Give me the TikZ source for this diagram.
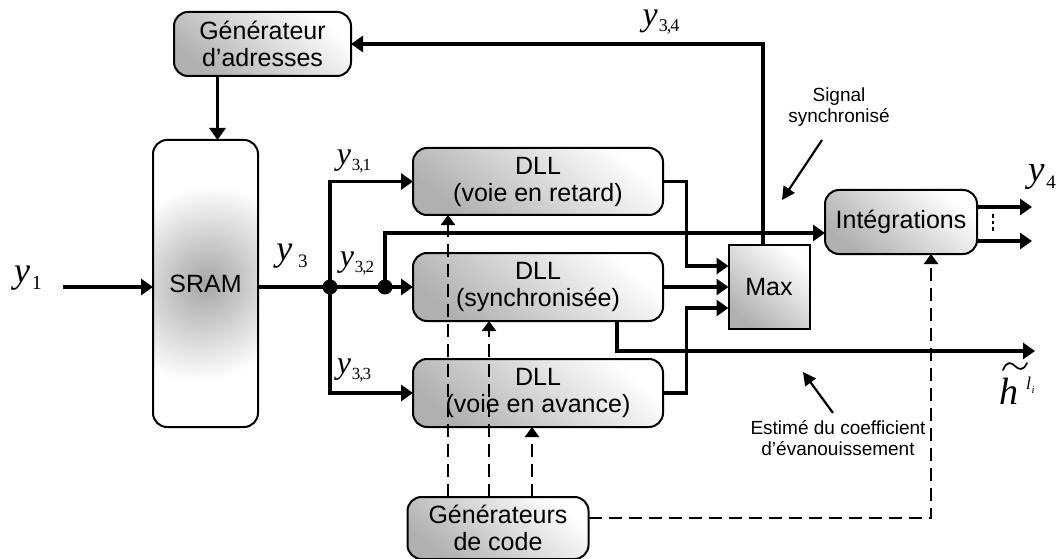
\documentclass[tikz,border=0pt]{standalone}
\usepackage{fontspec}
\setmainfont{Liberation Sans}
\newfontfamily\tnr{Liberation Serif}
\usetikzlibrary{arrows.meta,calc}
\newcommand\ylab[5]{{\tnr\fontsize{#1}{#1}\selectfont\itshape y}\kern#4pt\raisebox{-#3pt}{\tnr\fontsize{#2}{#2}\selectfont #5}}
\begin{document}
\begin{tikzpicture}[x=1pt,y=-1pt,
  box/.style={draw, line width=2pt, rounded corners=14pt, inner sep=0pt, outer sep=0pt,
    font=\fontsize{25}{27}\selectfont, align=center,
    top color=white, bottom color=gray!62, shading angle=-40},
  line/.style={line width=3.6pt},
  arr/.style={line, -{Triangle[length=12pt,width=16pt]}},
  darr/.style={line width=2.3pt, dash pattern=on 13pt off 7pt, -{Triangle[length=10pt,width=14pt]}},
  note/.style={line width=2.2pt, -{Triangle[length=13pt,width=13pt]}},
  small/.style={font=\fontsize{19}{21}\selectfont, align=center},
  lab/.style={inner sep=0pt}]
\useasboundingbox (0,0) rectangle (1061,559);

% boxes
\node[box, minimum width=177pt, minimum height=64pt] (gadr) at (262.5,44) {Générateur\\d’adresses};
\node[box, minimum width=105pt, minimum height=287pt, shading=radial, inner color=gray!70, outer color=white] (sram) at (205.5,283.5) {SRAM};
\node[box, minimum width=250pt, minimum height=67pt] (dll1) at (538,181.5) {DLL\\(voie en retard)};
\node[box, minimum width=250pt, minimum height=68pt] (dll2) at (538,287) {DLL\\(synchronisée)};
\node[box, minimum width=250pt, minimum height=68pt] (dll3) at (538,393) {DLL\\(voie en avance)};
\node[box, rounded corners=0pt, minimum width=81pt, minimum height=84pt] (max) at (769,287) {Max};
\node[box, minimum width=152pt, minimum height=64pt] (integ) at (901,222) {Intégrations};
\node[box, minimum width=181pt, minimum height=62pt] (gcode) at (498,528) {Générateurs\\de code};

% coordinates
\coordinate (in) at (63,287);
\coordinate (d1) at (330,287);
\coordinate (d2) at (385,287);
\coordinate (s2) at (385,233);
\coordinate (hout) at (1035,351);
\coordinate (o1) at (1032,207);
\coordinate (o2) at (1032,241);
\coordinate (sa) at (822,140);
\coordinate (sb) at (782,200);
\coordinate (ea) at (833,413);
\coordinate (eb) at (803,372);
\coordinate (ga) at ($(gadr.south)+(-45,0)$);
\coordinate (mx) at ($(max.north)+(-6,0)$);
\coordinate (dx) at ($(dll2.south)+(79,0)$);
\coordinate (c1) at ($(gcode.north)+(-50,0)$);
\coordinate (c2) at ($(gcode.north)+(-9,0)$);
\coordinate (c3) at ($(gcode.north)+(34,0)$);
\coordinate (c4) at ($(gcode.east)+(0,-10)$);
\coordinate (c5) at ($(integ.south)+(30,0)$);
\coordinate (m1) at ($(max.west)+(-42,-21)$);
\coordinate (m3) at ($(max.west)+(-42,21)$);

% connectors
\draw[arr] (ga) -- (ga |- sram.north);
\draw[arr] (in) -- (in -| sram.west);
\draw[line] (in -| sram.east) -- (d1) -- (d2);
\draw[arr] (d2) -- (dll2.west);
\draw[arr] (d1) |- (dll1.west);
\draw[arr] (d1) |- (dll3.west);
\draw[arr] (d2) -- (s2) -- (s2 -| integ.west);
\fill (d1) circle (7.5pt);
\fill (d2) circle (7.5pt);
\draw[arr] (dll1.east) -| (m1) -- (m1 -| max.west);
\draw[arr] (dll2.east) -- (max.west);
\draw[arr] (dll3.east) -| (m3) -- (m3 -| max.west);
\draw[arr] (mx) |- (gadr.east);
\draw[arr] (dx) |- (hout);
\draw[arr] (o1 -| integ.east) -- (o1);
\draw[arr] (o2 -| integ.east) -- (o2);
\draw[line width=1.8pt, dash pattern=on 3.5pt off 3pt] ($(integ.east)+(16,-8)$) -- ($(integ.east)+(16,10)$);
\draw[darr] (c1) -- (c1 |- dll1.south);
\draw[darr] (c2) -- (c2 |- dll2.south);
\draw[darr] (c3) -- (c3 |- dll3.south);
\draw[darr] (c4) -| (c5);
\draw[note] (sa) -- (sb);
\draw[note] (ea) -- (eb);

% labels
\node[lab] (ly1) at (28,278) {\ylab{36}{20}{7}{2}{1}};
\node[lab] (ly3) at (292,256) {\ylab{36}{19}{7}{6}{3}};
\node[lab] (ly31) at (354,161) {\ylab{32}{17}{6}{1}{3{\kern-1pt},{\kern-1pt}1}};
\node[lab] (ly32) at (357,263) {\ylab{32}{17}{6}{1}{3{\kern-1pt},{\kern-1pt}2}};
\node[lab] (ly33) at (354,370) {\ylab{32}{17}{6}{1}{3{\kern-1pt},{\kern-1pt}3}};
\node[lab] (ly34) at (661,22) {\ylab{34}{18}{6}{1}{3{\kern-1pt},{\kern-1pt}4}};
\node[lab] (ly4) at (1042,177) {\ylab{37}{19}{7}{2}{4}};
\node[lab, anchor=base west] (lh) at (999,404) {\tnr\fontsize{38}{38}\selectfont\itshape h\kern8pt\raisebox{15pt}{\fontsize{18}{18}\selectfont l\kern0.5pt\raisebox{-4pt}{\fontsize{11}{11}\selectfont i}}};
\draw[line width=1.7pt, line cap=round] (1003,370) .. controls (1007,360) and (1012,363) .. (1015,366) .. controls (1018,369) and (1023,372) .. (1027,363);
\node[small] (lsig) at (839,107) {Signal\\synchronisé};
\node[small] (lest) at (838,438) {Estimé du coefficient\\d’évanouissement};
\end{tikzpicture}
\end{document}
